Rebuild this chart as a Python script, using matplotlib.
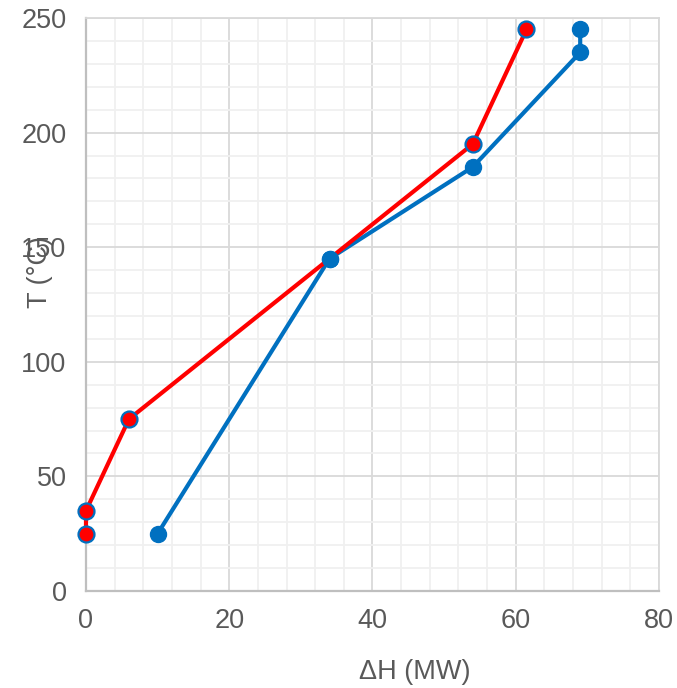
import matplotlib
matplotlib.use("Agg")
import matplotlib.pyplot as plt
from matplotlib.ticker import MultipleLocator

hot_x = [0, 0, 6, 34, 54, 61.5]
hot_y = [25, 35, 75, 145, 195, 245]
cold_x = [10, 34, 54, 69, 69]
cold_y = [25, 145, 185, 235, 245]

plt.rcParams['font.family'] = ['Liberation Sans', 'DejaVu Sans']
fig = plt.figure(figsize=(6.77, 6.88), dpi=100)
ax = fig.add_axes([0.127, 0.141, 0.8464, 0.8328])

ax.set_xlim(0, 80)
ax.set_ylim(0, 250)
ax.xaxis.set_major_locator(MultipleLocator(20))
ax.xaxis.set_minor_locator(MultipleLocator(4))
ax.yaxis.set_major_locator(MultipleLocator(50))
ax.yaxis.set_minor_locator(MultipleLocator(10))
ax.grid(which='major', color='#d9d9d9', linewidth=1.3, zorder=0)
ax.grid(which='minor', color='#f0f0f0', linewidth=1.3, zorder=0)
ax.set_axisbelow(True)
ax.tick_params(which='both', length=0, labelsize=19.5, labelcolor='#595959')
ax.tick_params(axis='y', pad=14)
ax.tick_params(axis='x', pad=12)
for s in ['top', 'right']:
    ax.spines[s].set_color('#d9d9d9')
    ax.spines[s].set_linewidth(1.3)
for s in ['left', 'bottom']:
    ax.spines[s].set_color('#bfbfbf')
    ax.spines[s].set_linewidth(1.6)

ms = 11.5
ax.plot(cold_x, cold_y, color='#0070c0', linewidth=3.0, marker='o', markersize=ms,
        markerfacecolor='#0070c0', markeredgecolor='#0070c0', zorder=3, clip_on=False)
ax.plot(hot_x, hot_y, color='#ff0000', linewidth=3.0, zorder=4, clip_on=False)
ax.plot(hot_x[:3] + hot_x[4:], hot_y[:3] + hot_y[4:], linestyle='none', marker='o', markersize=ms,
        markerfacecolor='#ff0000', markeredgecolor='#0070c0', markeredgewidth=1.6, zorder=5, clip_on=False)
ax.plot([cold_x[1]], [cold_y[1]], linestyle='none', marker='o', markersize=ms,
        markerfacecolor='#0070c0', markeredgecolor='#0070c0', zorder=6)

ax.set_xlabel('ΔH (MW)', fontsize=19.5, color='#595959')
ax.xaxis.set_label_coords((415 - 86) / 573, -(672 - 591) / 573)
ax.set_ylabel('T (°C)', fontsize=19.5, color='#595959')
ax.yaxis.set_label_coords((40 - 86) / 573, (591 - 272) / 573)
ax.xaxis.label.set_va('center')
ax.yaxis.label.set_va('center')

fig.savefig('out.png', dpi=100)
